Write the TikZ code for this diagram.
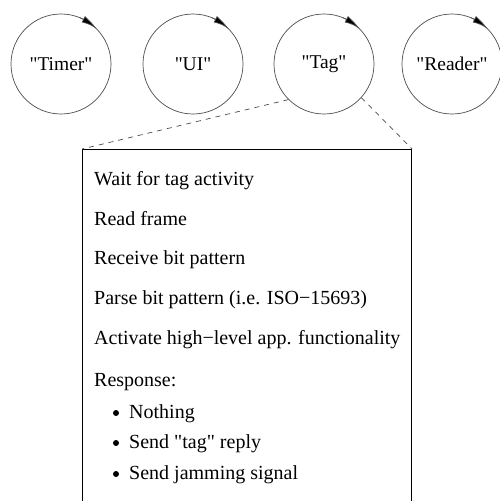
\documentclass[tikz,border=0pt]{standalone}
\usepackage{fontspec}
\setmainfont{Liberation Serif}[Ligatures=TeXOff]
\usetikzlibrary{arrows.meta,bending}
\begin{document}
\begin{tikzpicture}[x=1pt,y=1pt,
  proc/.style={circle, draw=black!70, line width=0.7pt, minimum size=100pt, inner sep=0pt,
               font=\fontsize{19.5}{22}\selectfont},
  loophead/.style={draw=black!70, line width=0.7pt, -{Latex[length=17pt,width=7pt,bend,fill=black]}},
  zoomline/.style={draw=black!70, line width=0.7pt, dash pattern=on 5pt off 5pt},
  panel/.style={draw=black, line width=1.1pt, anchor=north west, minimum width=329pt,
                minimum height=400pt, inner sep=0pt},
  item/.style={anchor=base west, inner sep=0pt, font=\fontsize{20}{22}\selectfont},
  dot/.style={circle, fill=black, inner sep=0pt, minimum size=6pt}]

\useasboundingbox (0,0) rectangle (500,-501);
\clip (0,0) rectangle (500,-501);

% processes, each with a self-loop arrowhead
\node[proc] (timer)  at (61,-64)  {"Timer"};
\node[proc] (ui)     at (193,-64) {"UI"};
\node[proc] (tag)    at (324,-64) {"Tag"};
\node[proc] (reader) at (452,-64) {"Reader"};
\foreach \p in {timer,ui,tag,reader}
  \draw[loophead] (\p.center) ++(68:50pt) arc[start angle=68, end angle=44, radius=50pt];

% detail panel of the "Tag" process
\node[panel] (detail) at (82,-149) {};
\draw[zoomline] (tag.225) -- (detail.north west);
\draw[zoomline] (tag.-42) -- (detail.north east);

\node[item] (s1) at (94,-185) {Wait for tag activity};
\node[item] (s2) at (94,-225) {Read frame};
\node[item] (s3) at (94,-264) {Receive bit pattern};
\node[item] (s4) at (94,-304) {Parse bit pattern (i.e. ISO−15693)};
\node[item] (s5) at (94,-344) {Activate high−level app. functionality};
\node[item] (s6) at (94,-386) {Response:};

\node[dot] (d1) at (116,-413) {};
\node[dot] (d2) at (116,-443) {};
\node[dot] (d3) at (116,-474) {};
\node[item] (r1) at (129,-418) {Nothing};
\node[item] (r2) at (129,-448) {Send "tag" reply};
\node[item] (r3) at (129,-479) {Send jamming signal};
\end{tikzpicture}
\end{document}
